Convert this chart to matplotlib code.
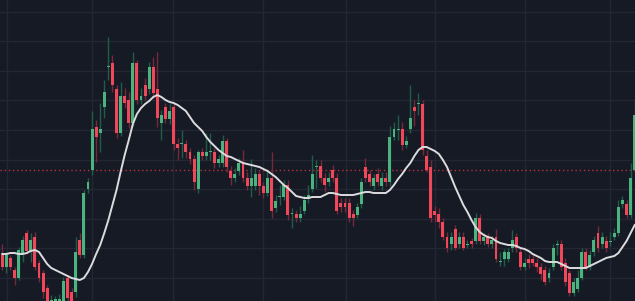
import numpy as np
import matplotlib.pyplot as plt
from matplotlib.ticker import MultipleLocator, FixedLocator

# OHLC (arbitrary price units)
opens = [46, 34, 43, 31, 23, 48, 68, 50, 64, 38, 28, 13, -5, -4, -4, -2, 23, 9, 9, 61,
         46, 112, 131, 174, 168, 194, 234, 238, 212, 168, 205, 201, 178, 238, 201, 216, 212, 234, 212, 178,
         194, 182, 194, 157, 157, 157, 149, 142, 112, 149, 145, 149, 149, 138, 138, 160, 130, 123, 130, 138,
         123, 115, 115, 127, 115, 108, 123, 93, 104, 104, 116, 87, 87, 83, 90, 102, 112, 134, 135, 123,
         119, 131, 123, 98, 98, 98, 87, 86, 97, 134, 127, 115, 127, 115, 123, 119, 164, 171, 172, 156,
         172, 194, 197, 197, 145, 134, 90, 87, 79, 64, 57, 72, 57, 64, 56, 60, 60, 83, 60, 64,
         57, 64, 39, 42, 42, 53, 64, 49, 34, 42, 42, 38, 34, 31, 23, 34, 56, 57, 38, 28,
         8, 12, 23, 49, 34, 49, 68, 57, 60, 59, 64, 68, 97, 97, 86, 131]
highs = [57, 49, 46, 34, 54, 65, 71, 68, 69, 41, 31, 16, 6, 5, 7, 24, 26, 13, 64, 68,
         111, 123, 190, 181, 198, 221, 264, 246, 216, 219, 213, 209, 249, 241, 213, 223, 239, 244, 249, 191,
         198, 197, 198, 163, 171, 161, 153, 146, 151, 153, 168, 168, 153, 146, 166, 163, 135, 133, 143, 151,
         129, 142, 133, 131, 119, 129, 149, 106, 116, 121, 121, 93, 91, 95, 106, 116, 146, 141, 141, 128,
         129, 136, 128, 103, 103, 103, 91, 98, 123, 143, 131, 127, 133, 129, 129, 175, 179, 186, 179, 165,
         216, 201, 208, 201, 151, 141, 95, 93, 83, 69, 69, 76, 69, 69, 61, 63, 88, 87, 68, 68,
         65, 72, 49, 52, 53, 71, 68, 53, 43, 47, 47, 43, 38, 35, 33, 57, 61, 61, 43, 31,
         23, 31, 53, 53, 51, 65, 75, 69, 65, 69, 73, 101, 105, 101, 138, 201]
lows = [31, 28, 31, 16, 21, 39, 47, 39, 31, 19, 3, -5, -9, -7, -8, -5, -2, -7, 4, 43,
        43, 108, 126, 139, 149, 183, 221, 209, 163, 165, 193, 173, 175, 197, 197, 201, 207, 203, 174, 161,
        178, 177, 151, 141, 143, 143, 137, 111, 108, 141, 141, 141, 133, 134, 134, 129, 116, 119, 126, 119,
        111, 104, 111, 106, 103, 105, 83, 89, 96, 101, 81, 73, 79, 79, 87, 98, 109, 113, 119, 109,
        115, 119, 87, 89, 89, 79, 75, 83, 93, 119, 115, 111, 115, 111, 115, 115, 161, 161, 151, 153,
        168, 175, 186, 146, 129, 79, 79, 73, 61, 49, 51, 51, 53, 51, 53, 53, 57, 57, 56, 54,
        53, 39, 35, 35, 39, 49, 49, 31, 31, 33, 35, 29, 21, 16, 19, 31, 46, 31, 15, 5,
        5, 9, 21, 31, 31, 45, 49, 53, 49, 55, 61, 65, 93, 83, 83, 129]
closes = [34, 46, 34, 23, 51, 61, 50, 61, 34, 23, 9, -2, 1, 2, 2, 20, 3, -4, 49, 46,
          108, 119, 172, 164, 172, 209, 235, 216, 168, 205, 198, 178, 238, 201, 205, 205, 234, 208, 183, 186,
          182, 190, 157, 153, 158, 149, 142, 119, 149, 145, 149, 150, 138, 142, 160, 134, 123, 127, 138, 123,
          115, 123, 127, 115, 108, 123, 90, 100, 105, 116, 86, 88, 83, 87, 101, 106, 127, 135, 123, 116,
          123, 123, 90, 94, 94, 83, 83, 94, 119, 123, 119, 123, 119, 123, 119, 164, 172, 172, 156, 160,
          183, 190, 198, 151, 131, 83, 86, 79, 64, 53, 64, 53, 64, 53, 57, 57, 83, 60, 64, 57,
          61, 42, 40, 49, 49, 61, 53, 34, 38, 38, 38, 34, 27, 19, 28, 53, 57, 34, 19, 8,
          19, 23, 49, 34, 46, 61, 53, 64, 53, 60, 68, 94, 101, 86, 123, 186]
# moving average line as drawn
ma = [47, 47, 48, 48, 47, 47, 48, 50, 51, 49, 43, 37, 33, 31, 29, 27, 25, 23, 22, 21,
      23, 29, 37, 47, 56, 68, 81, 96, 111, 129, 146, 161, 177, 187, 193, 197, 200, 204, 206, 204,
      201, 199, 198, 196, 193, 190, 184, 178, 174, 170, 164, 159, 155, 151, 148, 145, 144, 142, 140, 138,
      137, 136, 135, 134, 132, 130, 127, 124, 120, 116, 113, 109, 105, 104, 103, 103, 104, 104, 104, 106,
      108, 108, 107, 106, 106, 106, 106, 107, 108, 109, 109, 108, 108, 108, 108, 111, 116, 122, 127, 133,
      138, 145, 151, 154, 154, 152, 150, 147, 141, 134, 124, 114, 105, 96, 89, 81, 74, 69, 66, 64,
      63, 60, 58, 57, 56, 56, 55, 53, 52, 50, 47, 45, 43, 40, 39, 39, 39, 37, 35, 33,
      33, 33, 33, 33, 35, 37, 39, 41, 43, 44, 45, 48, 54, 60, 68, 76]
level = 131
month_lines = [1.15, 22, 41.8, 64, 84.2, 106, 128, 149]

o = np.array(opens)
c = np.array(closes)
x = np.arange(len(o))
up = c >= o

bg = '#161a25'
fig = plt.figure(figsize=(6.35, 3.01), dpi=100, facecolor=bg)
ax = fig.add_axes([0, 0, 1, 1])
ax.set_facecolor(bg)

# wicks are dimmer than the bodies
wick_col = np.where(up, '#1f5d48', '#76293a')
ax.vlines(x, lows, highs, colors=wick_col, linewidth=1, zorder=2)

body_col = np.where(up, '#4bb37f', '#f0475b')
bottom = np.minimum(o, c)
height = np.maximum(np.abs(c - o), 1)
ax.bar(x, height, bottom=bottom, width=0.72, color=body_col, linewidth=0, zorder=3)

ax.plot(x, ma, color='#dcdcdf', linewidth=1.4, zorder=4)
ax.axhline(level, color='#b8323f', linestyle=(0, (1, 2)), linewidth=1, zorder=1)

ax.set_xlim(-0.56, 155.07)
ax.set_ylim(0, 301)
ax.yaxis.set_major_locator(MultipleLocator(29.6, offset=23))
ax.xaxis.set_major_locator(FixedLocator(month_lines))
ax.grid(True, color='#232733', linewidth=1)
ax.set_axisbelow(True)
ax.tick_params(left=False, bottom=False, labelleft=False, labelbottom=False)
for s in ax.spines.values():
    s.set_visible(False)

fig.savefig('out.png', dpi=100, facecolor=bg)
